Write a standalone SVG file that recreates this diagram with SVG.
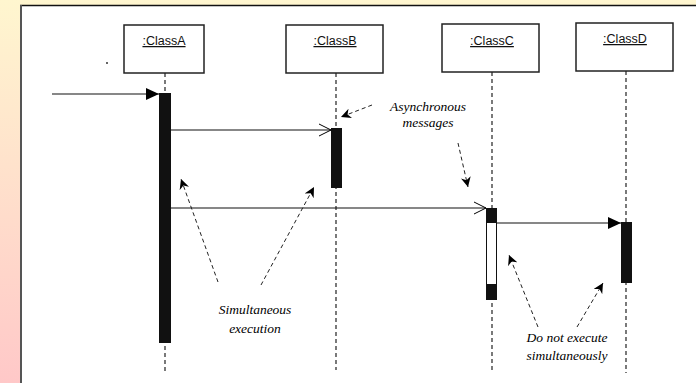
<svg xmlns="http://www.w3.org/2000/svg" width="696" height="383" viewBox="0 0 696 383">
  <defs>
    <linearGradient id="bg" x1="0" y1="0" x2="0" y2="1">
      <stop offset="0" stop-color="#FFF6CF"/>
      <stop offset="1" stop-color="#FFC8C8"/>
    </linearGradient>
    <marker id="filled" markerUnits="userSpaceOnUse" markerWidth="13" markerHeight="12" refX="13" refY="6" orient="auto">
      <path d="M0,0 L13,6 L0,12 z" fill="#000"/>
    </marker>
    <marker id="open" markerUnits="userSpaceOnUse" markerWidth="14" markerHeight="14" refX="13" refY="7" orient="auto">
      <path d="M1,1 L13,7 L1,13" fill="none" stroke="#000" stroke-width="1"/>
    </marker>
    <marker id="note" markerUnits="userSpaceOnUse" markerWidth="11" markerHeight="10" refX="10" refY="5" orient="auto">
      <path d="M0,0 L10,5 L0,10 L3,5 z" fill="#000"/>
    </marker>
    <style>
      .box{fill:#fff;stroke:#222;stroke-width:1.5}
      .lbl{font-family:"Liberation Sans",Arial,sans-serif;font-size:12.5px;fill:#111;text-anchor:middle;text-decoration:underline}
      .life{stroke:#222;stroke-width:1.2;stroke-dasharray:4 3;fill:none}
      .act{fill:#111;stroke:#111;stroke-width:1}
      .msg{stroke:#111;stroke-width:1.2;fill:none}
      .ann{stroke:#222;stroke-width:1;stroke-dasharray:4 3;fill:none;marker-end:url(#note)}
      .note{font-family:"Liberation Serif","DejaVu Serif","Times New Roman",serif;font-style:italic;font-size:13.5px;fill:#000;text-anchor:middle}
    </style>
  </defs>
  <rect x="0" y="0" width="696" height="383" fill="url(#bg)"/>
  <rect x="21" y="6" width="675" height="377" fill="#fff"/>
  <line x1="20" y1="5.5" x2="696" y2="5.5" stroke="#111" stroke-width="1.5"/>
  <line x1="21" y1="5" x2="21" y2="383" stroke="#555" stroke-width="2"/>
  <circle cx="107" cy="63" r="1" fill="#333"/>

  <g id="classA">
    <rect class="box" x="124" y="25" width="80" height="48"/>
    <text class="lbl" x="164" y="45">:ClassA</text>
    <line class="life" x1="165" y1="73" x2="165" y2="372"/>
    <rect class="act" x="159.5" y="93.5" width="11" height="249"/>
  </g>
  <g id="classB">
    <rect class="box" x="286" y="25" width="97" height="48"/>
    <text class="lbl" x="335" y="45">:ClassB</text>
    <line class="life" x1="336" y1="73" x2="336" y2="370"/>
    <rect class="act" x="331.5" y="128.5" width="10" height="59"/>
  </g>
  <g id="classC">
    <rect class="box" x="442" y="24" width="97" height="48"/>
    <text class="lbl" x="492" y="45">:ClassC</text>
    <line class="life" x1="492" y1="72" x2="492" y2="373"/>
    <rect x="486.5" y="208.5" width="10" height="91" fill="#fff" stroke="#111" stroke-width="1"/>
    <rect class="act" x="486.5" y="208.5" width="10" height="14"/>
    <rect class="act" x="486.5" y="284.5" width="10" height="15"/>
  </g>
  <g id="classD">
    <rect class="box" x="576" y="23" width="97" height="48"/>
    <text class="lbl" x="625" y="43">:ClassD</text>
    <line class="life" x1="626" y1="71" x2="626" y2="373"/>
    <rect class="act" x="621.5" y="222.5" width="10" height="60"/>
  </g>

  <g id="connectors">
    <line class="msg" x1="52" y1="94" x2="159" y2="94" marker-end="url(#filled)"/>
    <line class="msg" x1="171" y1="130" x2="331" y2="130" marker-end="url(#open)"/>
    <line class="msg" x1="171" y1="208" x2="486" y2="208" marker-end="url(#open)"/>
    <line class="msg" x1="497" y1="223" x2="621" y2="223" marker-end="url(#filled)"/>
  </g>

  <g id="annotations">
    <text class="note" x="428" y="111">Asynchronous</text>
    <text class="note" x="428" y="127">messages</text>
    <line class="ann" x1="372" y1="105" x2="341" y2="117"/>
    <line class="ann" x1="458" y1="143" x2="468" y2="187"/>

    <text class="note" x="255" y="314">Simultaneous</text>
    <text class="note" x="255" y="333">execution</text>
    <line class="ann" x1="218" y1="282" x2="181" y2="179"/>
    <line class="ann" x1="261" y1="285" x2="314" y2="187"/>

    <text class="note" x="567" y="342">Do not execute</text>
    <text class="note" x="567" y="360">simultaneously</text>
    <line class="ann" x1="538" y1="327" x2="509" y2="255"/>
    <line class="ann" x1="577" y1="327" x2="603" y2="283"/>
  </g>
</svg>
